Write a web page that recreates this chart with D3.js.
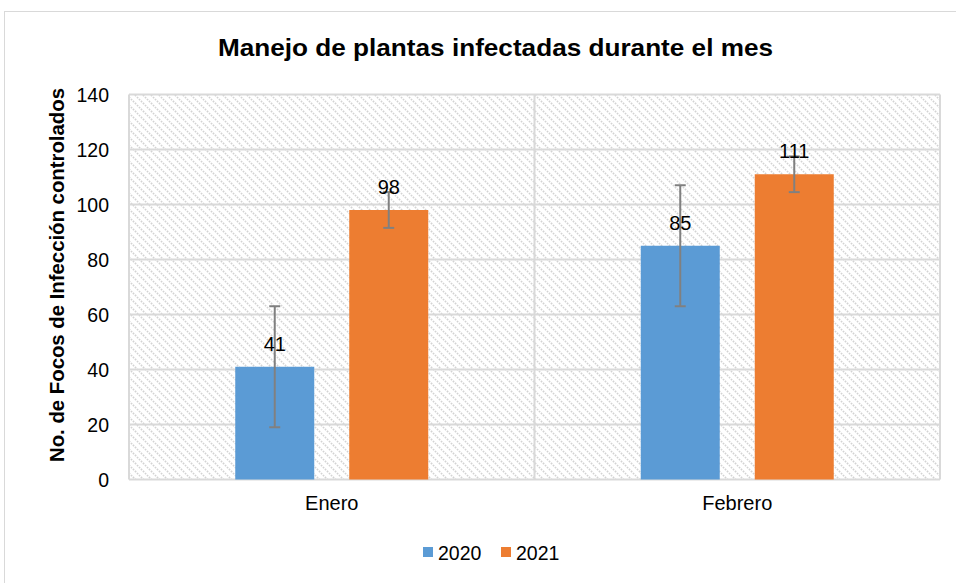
<!DOCTYPE html>
<html><head><meta charset="utf-8">
<script src="https://cdn.jsdelivr.net/npm/d3@7"></script>
<style>body{margin:0;background:#fff}svg{display:block}text{font-family:"Liberation Sans",Arial,sans-serif}</style>
</head><body>
<svg id="c" width="956" height="583"></svg>
<script>
const categories = ["Enero", "Febrero"];
const seriesNames = ["2020", "2021"];
const values2020 = [41, 85];
const values2021 = [98, 111];
const errors2020 = [22, 22];
const errors2021 = [6.5, 6.5];
const yTicks = [0, 20, 40, 60, 80, 100, 120, 140];
const colors = ["#5b9bd5", "#ed7d31"];
const title = "Manejo de plantas infectadas durante el mes";
const yTitle = "No. de Focos de Infección controlados";

const svg = d3.select("#c");
const m = {left:129, right:940, top:94.5, bottom:479.5};

// chart border
svg.append("rect").attr("x",4.5).attr("y",11.5).attr("width",1000).attr("height",1000)
  .attr("fill","none").attr("stroke","#d9d9d9").attr("stroke-width",1);

const defs = svg.append("defs");
const P = 8;
const pat = defs.append("pattern").attr("id","hatch").attr("patternUnits","userSpaceOnUse")
  .attr("width",P).attr("height",P);
pat.append("rect").attr("width",P).attr("height",P).attr("fill","#fff");
pat.append("path").attr("d",`M-1,-1 L${P+1},${P+1} M-1,${P-1} L1,${P+1} M${P-1},-1 L${P+1},1`).attr("stroke","#d3d3d3")
  .attr("stroke-width",1.6).attr("stroke-dasharray","1.6,1.2");

const x0 = d3.scaleBand().domain(categories).range([m.left,m.right]).paddingInner(0).paddingOuter(0);
const y = d3.scaleLinear().domain([0,140]).range([m.bottom,m.top]);

svg.append("rect").attr("x",m.left).attr("y",m.top).attr("width",m.right-m.left).attr("height",m.bottom-m.top)
  .attr("fill","url(#hatch)");

// gridlines
svg.append("g").selectAll("line").data(yTicks).join("line")
  .attr("x1",m.left).attr("x2",m.right).attr("y1",d=>y(d)).attr("y2",d=>y(d))
  .attr("stroke","#d9d9d9").attr("stroke-width",2);
// vertical lines
const vx = [m.left, x0("Febrero"), m.right];
svg.append("g").selectAll("line").data(vx).join("line")
  .attr("x1",d=>d).attr("x2",d=>d).attr("y1",m.top).attr("y2",m.bottom)
  .attr("stroke","#d9d9d9").attr("stroke-width",2);

// y tick labels
svg.append("g").selectAll("text").data(yTicks).join("text")
  .attr("x",109).attr("y",d=>y(d)).attr("dy","0.36em").attr("text-anchor","end")
  .attr("font-size",19.5).attr("fill","#000").text(d=>d);

// bars
const bw = x0.bandwidth()*79/405.5;
const off = x0.bandwidth()*57/405.5;
const series = [
  {name:seriesNames[0], vals:values2020, errs:errors2020, color:colors[0], dx:-off},
  {name:seriesNames[1], vals:values2021, errs:errors2021, color:colors[1], dx:off}
];
series.forEach(s=>{
  const g = svg.append("g");
  const data = categories.map((c,i)=>({c, v:s.vals[i], e:s.errs[i], cx:x0(c)+x0.bandwidth()/2+s.dx}));
  g.selectAll("rect").data(data).join("rect")
    .attr("x",d=>d.cx-bw/2).attr("width",bw).attr("y",d=>y(d.v)).attr("height",d=>y(0)-y(d.v))
    .attr("fill",s.color);
  const eg = g.selectAll("g.err").data(data).join("g").attr("class","err")
    .attr("stroke","#808080").attr("stroke-width",2);
  eg.append("line").attr("x1",d=>d.cx).attr("x2",d=>d.cx).attr("y1",d=>y(d.v+d.e)).attr("y2",d=>y(d.v-d.e));
  eg.append("line").attr("x1",d=>d.cx-5.5).attr("x2",d=>d.cx+5.5).attr("y1",d=>y(d.v+d.e)).attr("y2",d=>y(d.v+d.e));
  eg.append("line").attr("x1",d=>d.cx-5.5).attr("x2",d=>d.cx+5.5).attr("y1",d=>y(d.v-d.e)).attr("y2",d=>y(d.v-d.e));
  g.selectAll("text").data(data).join("text")
    .attr("x",d=>d.cx).attr("y",d=>y(d.v)-16).attr("text-anchor","middle")
    .attr("font-size",20).attr("fill","#000").text(d=>d.v);
});

// category labels
svg.append("g").selectAll("text").data(categories).join("text")
  .attr("x",d=>x0(d)+x0.bandwidth()/2).attr("y",510).attr("text-anchor","middle")
  .attr("font-size",20).attr("fill","#000").text(d=>d);

// title
svg.append("text").attr("x",495.5).attr("y",56).attr("text-anchor","middle")
  .attr("font-size",24).attr("font-weight","bold").attr("fill","#000")
  .attr("textLength",555).attr("lengthAdjust","spacingAndGlyphs").text(title);

// y title
svg.append("text").attr("transform","translate(64,275) rotate(-90)").attr("text-anchor","middle")
  .attr("font-size",19.5).attr("font-weight","bold").attr("fill","#000")
  .attr("textLength",374).attr("lengthAdjust","spacingAndGlyphs").text(yTitle);

// legend
const lg = svg.append("g");
const lx = [423, 501];
seriesNames.forEach((n,i)=>{
  lg.append("rect").attr("x",lx[i]).attr("y",547).attr("width",10).attr("height",10).attr("fill",colors[i]);
  lg.append("text").attr("x",lx[i]+15).attr("y",559.5).attr("font-size",19.5).attr("fill","#000").text(n);
});
</script>
</body></html>
